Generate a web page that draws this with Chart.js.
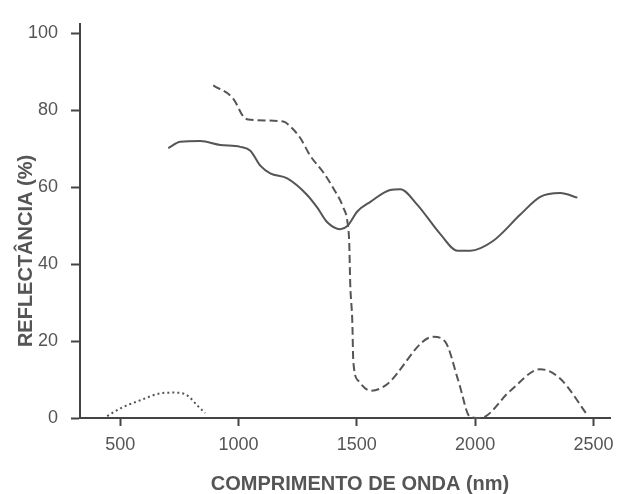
<!DOCTYPE html>
<html>
<head>
<meta charset="utf-8">
<script src="https://cdn.jsdelivr.net/npm/chart.js@4/dist/chart.umd.min.js"></script>
<style>
  html, body { margin: 0; padding: 0; background: #fff; }
  #wrap { width: 622px; height: 494px; position: relative; }
</style>
</head>
<body>
<div id="wrap"><canvas id="grafico"></canvas></div>
<script>
// Curvas de reflectância (comprimento de onda em nm, reflectância em %)

// curva contínua
const continuaX = [703, 754, 838, 923, 1007, 1050, 1092, 1134, 1206, 1290, 1333, 1375, 1430, 1460, 1502, 1557, 1641, 1684, 1755, 1853, 1925, 1979, 2077, 2191, 2275, 2360, 2432];
const continuaY = [70.2, 71.8, 72.0, 71.0, 70.5, 69.5, 65.6, 63.6, 62.3, 58.0, 54.7, 50.9, 49.1, 49.9, 53.7, 56.2, 59.3, 59.5, 55.5, 47.8, 43.5, 43.5, 46.1, 52.9, 57.5, 58.5, 57.3];

// curva tracejada
const tracejadaX = [893, 978, 1020, 1041, 1189, 1219, 1261, 1303, 1358, 1400, 1443, 1460, 1468, 1472, 1481, 1485, 1506, 1557, 1620, 1823, 1874, 1929, 1979, 2022, 2149, 2275, 2360, 2474];
const tracejadaY = [86.5, 83.0, 78.4, 77.6, 77.1, 75.8, 72.8, 68.2, 63.9, 59.8, 54.7, 51.1, 45.3, 35.1, 24.9, 14.8, 9.7, 7.1, 8.4, 21.1, 19.8, 9.7, 0.3, 0, 7.1, 12.7, 10.2, 0.8];

// curva pontilhada
const pontilhadaX = [445, 500, 585, 669, 724, 783, 825, 859];
const pontilhadaY = [0.5, 2.5, 4.6, 6.4, 6.6, 5.9, 3.3, 1.3];

// eixos
const xTicks = [500, 1000, 1500, 2000, 2500];
const yTicks = [0, 20, 40, 60, 80, 100];
const tituloX = 'COMPRIMENTO DE ONDA (nm)';
const tituloY = 'REFLECTÂNCIA (%)';

const cinza = '#555';
const cinzaEixo = '#444';

function pontos(xs, ys) {
    return xs.map((x, i) => ({ x: x, y: ys[i] }));
}

function serie(xs, ys, dash) {
    return {
        data: pontos(xs, ys),
        borderColor: cinza,
        borderWidth: 2,
        borderDash: dash,
        pointRadius: 0,
        fill: false,
        cubicInterpolationMode: 'monotone',
        clip: false
    };
}

// títulos dos eixos desenhados à mão para ficarem na mesma posição da figura
const titulosEixos = {
    id: 'titulosEixos',
    afterDraw(chart) {
        const ctx = chart.ctx;
        ctx.save();
        ctx.fillStyle = cinza;
        ctx.font = 'bold 20px "Liberation Sans", Arial, sans-serif';
        ctx.textAlign = 'center';
        ctx.textBaseline = 'middle';
        ctx.fillText(tituloX, 360, 484);
        ctx.translate(26, 251);
        ctx.rotate(-Math.PI / 2);
        ctx.fillText(tituloY, 0, 0);
        ctx.restore();
    }
};

document.addEventListener('DOMContentLoaded', () => {
    const ctx = document.getElementById('grafico').getContext('2d');
    new Chart(ctx, {
        type: 'line',
        data: {
            datasets: [
                serie(continuaX, continuaY, []),
                serie(tracejadaX, tracejadaY, [8, 4]),
                serie(pontilhadaX, pontilhadaY, [2, 3])
            ]
        },
        options: {
            responsive: true,
            maintainAspectRatio: false,
            animation: false,
            layout: { padding: { top: 15, right: 12, left: 0, bottom: 0 } },
            plugins: {
                legend: { display: false },
                tooltip: { enabled: false }
            },
            scales: {
                x: {
                    type: 'linear',
                    min: 330,
                    max: 2570,
                    afterBuildTicks: s => { s.ticks = xTicks.map(v => ({ value: v })); },
                    afterFit: s => { s.height = 76; },
                    border: { display: true, color: cinzaEixo, width: 2 },
                    grid: { drawOnChartArea: false, drawTicks: true, tickLength: 8, tickColor: cinzaEixo, tickWidth: 2 },
                    ticks: {
                        color: cinza,
                        padding: 8,
                        maxRotation: 0,
                        callback: v => String(v),
                        font: { family: '"Liberation Sans", Arial, sans-serif', size: 18 }
                    },
                    title: { display: false }
                },
                y: {
                    min: 0,
                    max: 102.5,
                    afterBuildTicks: s => { s.ticks = yTicks.map(v => ({ value: v })); },
                    afterFit: s => { s.width = 80; },
                    border: { display: true, color: cinzaEixo, width: 2 },
                    grid: { drawOnChartArea: false, drawTicks: true, tickLength: 9, tickColor: cinzaEixo, tickWidth: 2 },
                    ticks: {
                        color: cinza,
                        padding: 13,
                        callback: v => String(v),
                        font: { family: '"Liberation Sans", Arial, sans-serif', size: 18 }
                    },
                    title: { display: false }
                }
            }
        },
        plugins: [titulosEixos]
    });
});
</script>
</body>
</html>
